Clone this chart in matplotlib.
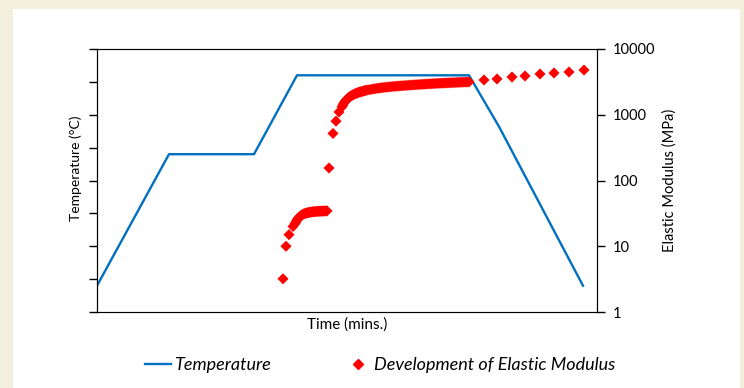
import matplotlib.pyplot as plt
from matplotlib.lines import Line2D
from matplotlib.patches import Rectangle

# temperature profile (time in mins, temperature in degC)
temp_time = [0, 72, 157, 200, 372, 402, 486]
temp_vals = [20, 120, 120, 180, 180, 141, 20]

# elastic modulus (MPa), split up in stages
early_t = [186, 189, 192, 196]
early_v = [3.2, 10, 15, 20]

gel_t = [198, 199, 200, 201, 202, 203, 204, 205, 206, 207,
         208, 209, 210, 211, 212, 213, 214, 215, 216, 217,
         218, 219, 220, 221, 222, 223, 224, 225, 226, 227,
         228, 229, 230]
gel_v = [22, 23.5, 25, 26.5, 27.5, 28.5, 29.3, 30, 30.6, 31.1,
         31.5, 31.9, 32.2, 32.5, 32.7, 32.9, 33.1, 33.3, 33.5, 33.6,
         33.7, 33.8, 33.9, 34, 34.1, 34.1, 34.2, 34.2, 34.3, 34.3,
         34.4, 34.4, 34.5]

jump_t = [232, 236, 239, 242]
jump_v = [155, 520, 800, 1100]

cure_t = [245, 246, 247, 248, 249, 250, 251, 252, 253, 254,
          255, 256, 257, 258, 259, 260, 261, 262, 263, 264,
          265, 266, 267, 268, 269, 270, 272, 274, 276, 278,
          280, 282, 284, 286, 288, 290, 292, 294, 296, 298,
          300, 302, 304, 306, 308, 310, 312, 314, 316, 318,
          320, 322, 324, 326, 328, 330, 332, 334, 336, 338,
          340, 342, 344, 346, 348, 350, 352, 354, 356, 358,
          360, 362, 364, 366, 368, 370, 372]
cure_v = [1320, 1420, 1510, 1590, 1660, 1730, 1790, 1840, 1890, 1930,
          1970, 2010, 2050, 2080, 2110, 2140, 2170, 2200, 2220, 2240,
          2260, 2290, 2310, 2330, 2350, 2370, 2400, 2430, 2460, 2490,
          2520, 2540, 2570, 2590, 2610, 2630, 2650, 2670, 2690, 2710,
          2720, 2740, 2750, 2770, 2780, 2800, 2810, 2830, 2840, 2860,
          2870, 2880, 2900, 2910, 2920, 2940, 2950, 2960, 2970, 2990,
          3000, 3010, 3020, 3030, 3040, 3050, 3060, 3070, 3080, 3090,
          3100, 3110, 3120, 3130, 3140, 3150, 3160]

late_t = [387, 400, 415, 428, 443, 457, 472, 487]
late_v = [3380, 3500, 3750, 3890, 4170, 4320, 4470, 4790]

mod_time = early_t + gel_t + jump_t + cure_t + late_t
mod_vals = early_v + gel_v + jump_v + cure_v + late_v

plt.rcParams['font.family'] = ['Lato', 'DejaVu Sans']

fig = plt.figure(figsize=(7.44, 3.88), dpi=100)
fig.patch.set_facecolor('#f2efdc')
fig.patches.append(Rectangle((13 / 744, 0), (740 - 13) / 744, (388 - 9) / 388,
                             transform=fig.transFigure, facecolor='white',
                             edgecolor='none', zorder=-10))

ax = fig.add_axes([97 / 744, 76 / 388, 500 / 744, 263 / 388])
ax.set_facecolor('none')
ax.plot(temp_time, temp_vals, color='#0070c0', lw=1.7, zorder=3)
ax.set_xlim(0, 500)
ax.set_ylim(0, 200)
ax.set_yticks(range(0, 201, 25))
ax.set_yticklabels([])
ax.set_xticks([])
ax.tick_params(axis='y', direction='out', length=6, width=1, color='black')
ax.set_ylabel('Temperature (°C)', fontsize=10)
ax.yaxis.set_label_coords(-15 / 500, 0.545)
ax.set_xlabel('Time (mins.)', fontsize=11, labelpad=4)
for s in ['top', 'bottom']:
    ax.spines[s].set_color('#595959')
ax.spines['left'].set_color('black')

ax2 = ax.twinx()
ax2.scatter(mod_time, mod_vals, marker='D', s=32, color='#ff0000',
            edgecolors='none', zorder=2)
ax2.set_yscale('log')
ax2.set_ylim(1, 10000)
ax2.set_yticks([1, 10, 100, 1000, 10000])
ax2.set_yticklabels(['1', '10', '100', '1000', '10000'])
ax2.minorticks_off()
ax2.tick_params(axis='y', direction='out', length=6, width=1, labelsize=10.5,
                pad=5)
ax2.set_ylabel('Elastic Modulus (MPa)', fontsize=10.5, rotation=90)
ax2.yaxis.set_label_coords(1 + 65 / 500, 0.5)
ax2.spines['right'].set_color('black')

handles = [Line2D([], [], color='#0070c0', lw=1.7),
           Line2D([], [], color='#ff0000', marker='D', ms=5.5, ls='none')]
fig.legend(handles, ['Temperature', 'Development of Elastic Modulus'],
           loc='center', bbox_to_anchor=(380 / 744, 1 - 365 / 388), ncol=2,
           frameon=False, prop={'style': 'italic', 'size': 13},
           handlelength=1.45, handletextpad=0.15, columnspacing=4.1)

fig.savefig('out.png', dpi=100)
